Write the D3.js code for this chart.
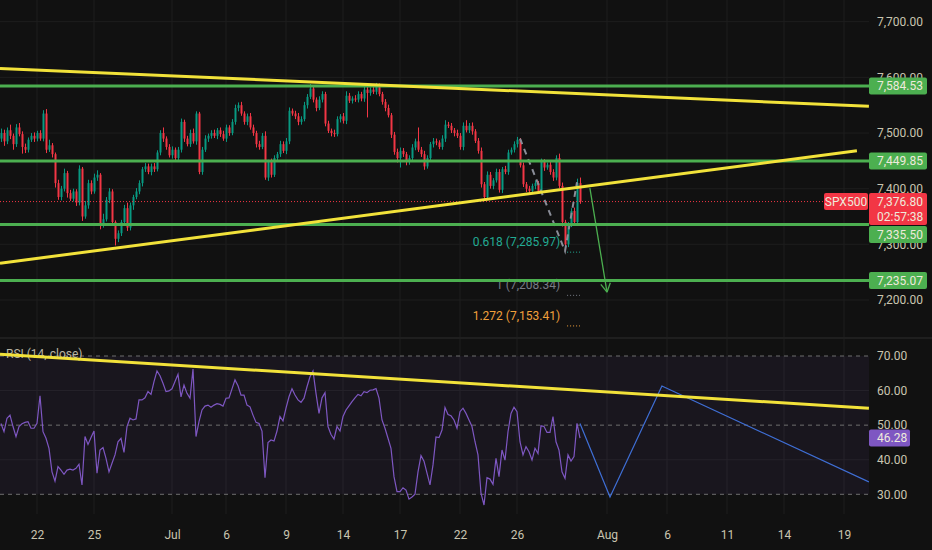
<!DOCTYPE html>
<meta charset="utf-8">
<style>
  body { margin: 0; background: #111111; }
  svg { display: block; }
  text { font-family: Roboto, "Noto Sans", sans-serif; }
</style>
<body></body>
<script src="https://d3js.org/d3.v7.min.js"></script>
<script>

// ---- data ----
var firstOpen = 7490;
var closes = [
  7500,7485,7505,7495,7480,7510,7498,7475,7470,7488,
  7495,7490,7500,7490,7535,7470,7478,7462,7410,7385,
  7400,7428,7392,7382,7395,7375,7436,7350,7370,7410,
  7395,7420,7425,7335,7345,7380,7395,7340,7310,7320,
  7340,7365,7330,7370,7385,7395,7410,7435,7440,7430,
  7440,7435,7465,7500,7490,7475,7460,7470,7455,7470,
  7520,7490,7480,7500,7485,7535,7430,7470,7490,7495,
  7500,7495,7505,7498,7490,7510,7500,7520,7545,7550,
  7535,7520,7530,7510,7500,7480,7475,7495,7420,7448,
  7425,7455,7462,7480,7468,7485,7540,7535,7530,7520,
  7525,7550,7565,7580,7560,7545,7560,7570,7517,7504,
  7500,7498,7525,7530,7522,7567,7558,7562,7560,7570,
  7562,7578,7572,7578,7574,7584,7570,7556,7545,7532,
  7497,7466,7455,7468,7462,7448,7455,7474,7485,7470,
  7462,7440,7455,7480,7485,7483,7475,7490,7515,7513,
  7505,7500,7495,7475,7513,7505,7513,7503,7486,7468,
  7408,7385,7425,7405,7415,7430,7398,7435,7430,7465,
  7470,7480,7488,7442,7408,7400,7396,7405,7410,7395,
  7448,7438,7443,7430,7420,7455,7405,7340,7300,7335,
  7360,7340,7410,7376.8
];
// wick lengths above / below the body, in points
var wickUp = [
  8,6,5,10,4,6,8,5,6,4, 5,6,4,5,6,8,10,4,3,6, 5,8,4,6,5,4,6,3,8,6,
  5,7,8,3,10,5,6,4,3,5, 4,6,10,5,4,6,5,4,6,5, 5,6,4,5,10,4,5,6,4,5,
  6,4,5,6,8,4,3,5,6,4, 5,6,4,5,6,5,4,5,6,5, 6,4,5,6,5,4,6,5,8,4,
  6,5,4,6,5,6,6,4,5,6, 5,6,5,8,5,4,6,5,4,5, 4,6,5,4,6,8,5,4,6,5,
  4,6,5,4,5,6,5,4,5,6, 4,5,6,6,5,4,5,6,5,25, 5,6,5,4,6,5,4,6,8,5,
  5,4,6,5,6,10,5,6,4,5, 6,4,6,5,4,6,5,4,6,5, 4,5,5,3,5,4,5,4,5,4,
  6,5,4,8,5,5,8,6,4,5, 5,6,8,10
];
var wickDn = [
  6,8,5,6,10,5,4,12,6,5, 4,6,5,4,5,6,4,6,8,5, 6,5,8,4,5,6,5,8,4,6,
  5,4,6,8,5,4,6,5,12,6, 5,4,6,5,8,4,5,6,5,4, 6,5,4,5,6,5,4,6,5,4,
  5,6,4,5,4,6,4,5,4,6, 5,4,6,5,4,6,5,4,5,6, 4,5,6,4,5,6,5,4,4,6,
  5,4,6,5,4,6,5,4,5,6, 5,4,6,4,5,6,4,5,5,4, 6,5,4,6,5,6,4,5,4,5,
  5,6,44,5,4,5,4,5,6,4, 6,5,8,17,5,6,5,4,5,4, 5,6,4,5,6,5,4,5,6,4,
  5,6,4,5,6,4,5,6,4,5, 6,5,4,5,6,4,5,6,4,5, 4,5,6,4,5,6,4,5,6,4,
  5,6,4,5,6,5,4,8,12,5, 4,6,5,4
];
var rsi = [
  50.5,48.1,52.0,52.9,49.6,46.7,49.6,50.4,50.8,51.0,
  49.1,49.1,50.5,58.5,48.1,46.2,43.3,36.5,33.8,38.0,
  37.0,35.8,37.0,37.3,37.0,37.5,38.7,32.7,46.7,44.4,
  46.4,48.3,36.1,42.8,43.5,40.4,36.5,39.0,41.4,45.2,
  46.2,42.1,49.6,52.0,51.5,51.8,57.3,57.3,57.9,59.7,
  58.9,62.6,65.7,64.3,62.1,59.7,59.9,60.5,62.6,64.7,
  58.2,61.6,59.2,57.8,66.2,46.7,51.0,54.4,55.5,55.8,
  55.2,55.8,56.2,56.0,55.5,57.8,57.9,60.5,63.1,61.4,
  58.7,58.7,55.8,55.3,52.9,50.8,50.5,48.3,34.8,45.0,
  45.7,45.4,48.3,52.5,51.2,54.9,58.2,60.5,58.7,57.3,
  56.6,57.8,61.1,64.0,65.7,59.2,53.4,57.9,59.4,49.6,
  47.3,46.0,49.6,48.3,52.5,54.4,55.6,56.8,57.9,58.9,
  58.5,59.7,59.4,60.1,60.2,60.6,57.8,51.5,49.1,46.2,
  43.3,35.1,30.8,30.8,31.9,31.2,28.6,29.2,30.0,36.5,
  41.2,39.6,36.1,32.7,38.5,46.6,46.4,48.6,55.1,53.1,
  52.7,51.5,49.1,53.9,54.9,53.4,51.5,49.6,45.2,41.4,
  30.3,26.9,34.8,34.4,32.9,40.4,35.1,42.8,39.9,48.1,
  53.4,55.2,53.9,45.2,41.4,43.8,42.3,39.9,43.3,41.8,
  49.8,49.6,47.9,47.9,52.5,45.2,42.8,36.5,34.6,41.4,
  39.6,40.9,50.5,46.28
];

var levels = [7584.53, 7449.85, 7335.50, 7235.07];
var priceTicks = [7200, 7300, 7400, 7500, 7600, 7700];
var rsiTicks = [30, 40, 50, 60, 70];
var rsiDashed = [70, 50, 30];
var timeIdx = [12, 31, 57, 75, 95, 114, 133, 153, 172, 202, 222, 242, 261, 281];
var timeLabels = ["22", "25", "Jul", "6", "9", "14", "17", "22", "26", "Aug", "6", "11", "14", "19"];

// drawings: [bar index, value]
var upperTrend = [[-0.33, 7616], [289.3, 7548]];
var lowerTrend = [[-0.33, 7266], [285.3, 7468]];
var rsiTrend = [[-0.33, 70.5], [289.3, 54.9]];
var rsiProjection = [[193, 50.5], [203, 29.2], [220.3, 61.3], [289.3, 33.6]];
var fibPath = [[173, 7490], [188, 7288], [192, 7411.5]];
var fibRatios = ["0.618", "1", "1.272"];
var fibPrices = [7285.97, 7208.34, 7153.41];
var fibColors = ["#22ab94", "#787b86", "#f0a03c"];
var arrowLine = [[196.3, 7401], [202, 7214]];

var lastPrice = 7376.80, countdown = "02:57:38", symbol = "SPX500";
var lastRsi = 46.28;

// ---- layout ----
var W = 932, H = 550, plotR = 869;
var priceTop = 0, priceBot = 337, rsiTop = 339, rsiBot = 514;

var gridCol = "#1e1e1e", axisText = "#c9c5b0", labelText = "#eeeadc";
var upCol = "#089981", downCol = "#f23645", lineGreen = "#4caf50", yellow = "#f2e23a";

var svg = d3.select("body").append("svg")
    .attr("width", W)
    .attr("height", H)
    .style("background", "#111111");

var x = d3.scaleLinear().domain([-1/3, 289 + 1/3]).range([0, plotR]);
var y = d3.scaleLinear().domain([7200, 7700]).range([300, 21.7]);
var yr = d3.scaleLinear().domain([30, 70]).range([494.3, 356]);

var fmt = d3.format(",.2f");

var defs = svg.append("defs");
defs.append("clipPath").attr("id", "clipP")
    .append("rect").attr("x", 0).attr("y", priceTop).attr("width", plotR).attr("height", priceBot - priceTop);
defs.append("clipPath").attr("id", "clipR")
    .append("rect").attr("x", 0).attr("y", rsiTop).attr("width", plotR).attr("height", rsiBot - rsiTop);

// grids
var grid = svg.append("g");
grid.selectAll(".vg").data(timeIdx).enter().append("line")
    .attr("x1", function(d) { return x(d); }).attr("x2", function(d) { return x(d); })
    .attr("y1", 0).attr("y2", rsiBot)
    .attr("stroke", gridCol);
grid.selectAll(".hg").data(priceTicks).enter().append("line")
    .attr("x1", 0).attr("x2", plotR)
    .attr("y1", function(d) { return y(d); }).attr("y2", function(d) { return y(d); })
    .attr("stroke", gridCol);
grid.selectAll(".rg").data([60, 40]).enter().append("line")
    .attr("x1", 0).attr("x2", plotR)
    .attr("y1", function(d) { return yr(d); }).attr("y2", function(d) { return yr(d); })
    .attr("stroke", gridCol);

// pane separator
svg.append("rect").attr("x", 0).attr("y", priceBot).attr("width", W).attr("height", rsiTop - priceBot)
    .attr("fill", "#1f1f1f");

// ---- price pane ----
var pp = svg.append("g").attr("clip-path", "url(#clipP)");

var candles = closes.map(function(c, i) {
    var o = i === 0 ? firstOpen : closes[i - 1];
    return { i: i, o: o, c: c, h: Math.max(o, c) + wickUp[i], l: Math.min(o, c) - wickDn[i] };
});

pp.selectAll(".wick").data(candles).enter().append("line")
    .attr("x1", function(d) { return x(d.i) + 0.5; })
    .attr("x2", function(d) { return x(d.i) + 0.5; })
    .attr("y1", function(d) { return y(d.h); })
    .attr("y2", function(d) { return y(d.l); })
    .attr("stroke", function(d) { return d.c >= d.o ? upCol : downCol; })
    .attr("stroke-width", 1);

pp.selectAll(".body").data(candles).enter().append("rect")
    .attr("x", function(d) { return x(d.i) - 0.5; })
    .attr("width", 2)
    .attr("y", function(d) { return y(Math.max(d.o, d.c)); })
    .attr("height", function(d) { return Math.max(1, Math.abs(y(d.o) - y(d.c))); })
    .attr("fill", function(d) { return d.c >= d.o ? upCol : downCol; });

// current price dotted line
pp.append("line")
    .attr("x1", 0).attr("x2", plotR)
    .attr("y1", y(lastPrice)).attr("y2", y(lastPrice))
    .attr("stroke", downCol).attr("stroke-width", 1).attr("stroke-dasharray", "1,2");

var line = d3.line()
    .x(function(d) { return x(d[0]); })
    .y(function(d) { return y(d[1]); });

// fib extension tool
pp.append("path").datum(fibPath)
    .attr("d", line)
    .attr("fill", "none").attr("stroke", "#8a8d98").attr("stroke-width", 2)
    .attr("stroke-dasharray", "6,5");

fibPrices.forEach(function(p, k) {
    pp.append("text")
        .attr("x", x(188.7) - 7).attr("y", y(p) - 6)
        .attr("text-anchor", "end")
        .attr("font-size", 12)
        .attr("fill", fibColors[k])
        .text(fibRatios[k] + " (" + fmt(p) + ")");
    pp.append("line")
        .attr("x1", x(188.7)).attr("x2", x(193))
        .attr("y1", y(p)).attr("y2", y(p))
        .attr("stroke", fibColors[k]).attr("stroke-dasharray", "1,2");
});

// horizontal levels
pp.selectAll(".lvl").data(levels).enter().append("line")
    .attr("x1", 0).attr("x2", plotR)
    .attr("y1", function(d) { return y(d); }).attr("y2", function(d) { return y(d); })
    .attr("stroke", lineGreen).attr("stroke-width", 3);

// trend lines
[upperTrend, lowerTrend].forEach(function(t) {
    pp.append("path").datum(t)
        .attr("d", line)
        .attr("fill", "none").attr("stroke", yellow).attr("stroke-width", 3);
});

// projection arrow
pp.append("path").datum(arrowLine)
    .attr("d", line)
    .attr("fill", "none").attr("stroke", lineGreen).attr("stroke-width", 1.3);
var tx = x(arrowLine[1][0]), ty = y(arrowLine[1][1]);
var ang = Math.atan2(ty - y(arrowLine[0][1]), tx - x(arrowLine[0][0]));
[-0.5, 0.5].forEach(function(a) {
    pp.append("line")
        .attr("x1", tx).attr("y1", ty)
        .attr("x2", tx - 10 * Math.cos(ang + a)).attr("y2", ty - 10 * Math.sin(ang + a))
        .attr("stroke", lineGreen).attr("stroke-width", 1.3);
});

// ---- RSI pane ----
var rp = svg.append("g").attr("clip-path", "url(#clipR)");

rp.append("rect")
    .attr("x", 0).attr("width", plotR)
    .attr("y", yr(70)).attr("height", yr(30) - yr(70))
    .attr("fill", "#7e57c2").attr("fill-opacity", 0.08);

rp.selectAll(".rd").data(rsiDashed).enter().append("line")
    .attr("x1", 0).attr("x2", plotR)
    .attr("y1", function(d) { return yr(d); }).attr("y2", function(d) { return yr(d); })
    .attr("stroke", "#6f6f6f").attr("stroke-dasharray", "4,4");

rp.append("text")
    .attr("x", 6).attr("y", 358)
    .attr("font-size", 12).attr("fill", "#b8b4a2")
    .text("RSI (14, close)");

var rline = d3.line()
    .x(function(d) { return x(d[0]); })
    .y(function(d) { return yr(d[1]); });

rp.append("path").datum(rsi.map(function(v, i) { return [i, v]; }))
    .attr("d", rline)
    .attr("fill", "none").attr("stroke", "#7e57c2").attr("stroke-width", 1.2);

rp.append("path").datum(rsiProjection)
    .attr("d", rline)
    .attr("fill", "none").attr("stroke", "#3f6fd6").attr("stroke-width", 1.2);

rp.append("path").datum(rsiTrend)
    .attr("d", rline)
    .attr("fill", "none").attr("stroke", yellow).attr("stroke-width", 3);

// ---- axes ----
var pAxis = svg.append("g")
    .attr("transform", "translate(" + plotR + ",0)")
    .call(d3.axisRight(y).tickValues(priceTicks).tickFormat(fmt).tickSize(0).tickPadding(8));
var rAxis = svg.append("g")
    .attr("transform", "translate(" + plotR + ",0)")
    .call(d3.axisRight(yr).tickValues(rsiTicks).tickFormat(d3.format(".2f")).tickSize(0).tickPadding(8));
var tAxis = svg.append("g")
    .attr("transform", "translate(0,520)")
    .call(d3.axisBottom(x).tickValues(timeIdx)
        .tickFormat(function(d, i) { return timeLabels[i]; })
        .tickSize(0).tickPadding(10));

[pAxis, rAxis, tAxis].forEach(function(g) {
    g.select(".domain").remove();
    g.selectAll("text")
        .attr("fill", axisText)
        .style("font-family", "Roboto, 'Noto Sans', sans-serif")
        .style("font-size", "12px");
});

// ---- axis labels ----
function tag(yc, w, h, fill, lines) {
    svg.append("rect")
        .attr("x", plotR).attr("y", yc - 8.5).attr("width", w).attr("height", h)
        .attr("rx", 2).attr("fill", fill);
    lines.forEach(function(t, k) {
        svg.append("text")
            .attr("x", plotR + 8).attr("y", yc + k * 15)
            .attr("dy", "0.35em")
            .attr("font-size", 12).attr("fill", labelText)
            .text(t);
    });
}

// the current price tag takes its place first, the level tags step aside from it
var priceTagTop = y(lastPrice) - 8.5, priceTagBot = priceTagTop + 32;
levels.forEach(function(p) {
    var yc = y(p);
    if (yc + 8.5 > priceTagTop && yc - 8.5 < priceTagBot) {
        yc = (yc < y(lastPrice)) ? priceTagTop - 9.5 : priceTagBot + 9.5;
    }
    tag(yc, 58, 17, lineGreen, [fmt(p)]);
});
tag(y(lastPrice), 58, 32, downCol, [fmt(lastPrice), countdown]);

svg.append("rect")
    .attr("x", 824).attr("y", y(lastPrice) - 8.5).attr("width", 44).attr("height", 17)
    .attr("rx", 2).attr("fill", downCol);
svg.append("text")
    .attr("x", 846).attr("y", y(lastPrice)).attr("dy", "0.35em")
    .attr("text-anchor", "middle")
    .attr("font-size", 12).attr("fill", labelText)
    .text(symbol);

tag(yr(lastRsi), 41, 17, "#7e57c2", [d3.format(".2f")(lastRsi)]);

</script>
